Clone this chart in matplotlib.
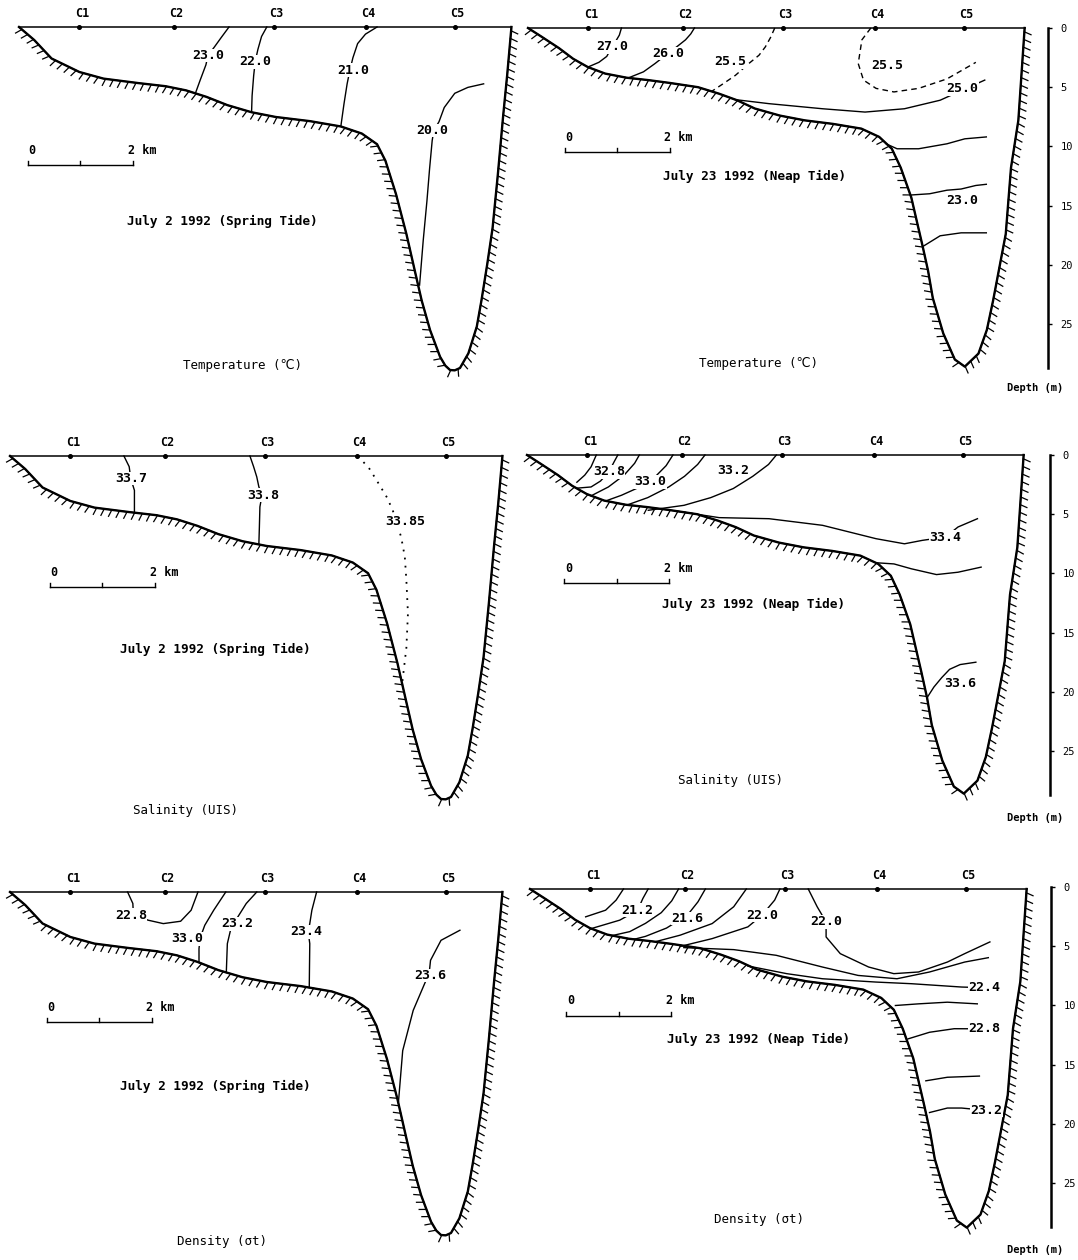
import matplotlib
matplotlib.use("Agg")
import matplotlib.pyplot as plt
from matplotlib import patheffects as pe

plt.rcParams["font.family"] = ["DejaVu Sans Mono", "DejaVu Sans"]

# stations along the section (km from the west bank)
stations = [1.15, 2.95, 4.85, 6.6, 8.3]
station_names = ["C1", "C2", "C3", "C4", "C5"]

# bottom profiles (km, m)
bed_spring_x = [0, 0.29, 0.62, 1.15, 1.61, 2.26, 2.79, 3.18, 3.57, 3.97, 4.43, 4.89, 5.54,
                6.13, 6.53, 6.82, 6.98, 7.18, 7.38, 7.55, 7.67, 7.83, 8.02, 8.12, 8.21,
                8.3, 8.4, 8.56, 8.72, 8.81, 8.92, 9.02, 9.12, 9.22, 9.30, 9.38]
bed_spring_z = [0, 1.1, 2.66, 3.8, 4.36, 4.73, 5.0, 5.35, 5.9, 6.6, 7.2, 7.6, 7.95,
                8.4, 9.0, 9.9, 11.3, 14.1, 17.5, 20.8, 23.1, 25.6, 27.85, 28.6, 28.97,
                29.0, 28.8, 27.56, 25.3, 23.06, 20.0, 17.0, 12.5, 7.6, 4.0, 0]

bed_neap_x = [0, 0.26, 0.59, 0.86, 1.14, 1.47, 1.88, 2.29, 2.7, 3.24, 3.64, 3.98, 4.32,
              4.8, 5.27, 5.81, 6.35, 6.69, 6.93, 7.1, 7.3, 7.51, 7.62, 7.71, 7.91, 8.13,
              8.32, 8.58, 8.74, 8.86, 9.1, 9.2, 9.34, 9.46]
bed_neap_z = [0, 0.74, 1.7, 2.6, 3.3, 3.85, 4.2, 4.4, 4.64, 5.0, 5.55, 6.1, 6.8,
              7.4, 7.8, 8.1, 8.5, 9.2, 10.2, 11.8, 14.3, 18.3, 20.5, 22.8, 25.8, 28.0,
              28.6, 27.5, 25.5, 23.0, 17.4, 11.8, 7.8, 0]

depth_ticks = [0, 5, 10, 15, 20, 25]

# isolines: label, x (km), depth (m), label position, line style
temp_spring = [
    ("23.0", [4.0, 3.85, 3.72, 3.6, 3.56, 3.45, 3.36], [0, 0.9, 1.7, 2.4, 3.2, 4.5, 5.6], (3.6, 2.4), "-"),
    ("22.0", [4.72, 4.62, 4.55, 4.5, 4.47, 4.44, 4.43], [0, 0.8, 1.9, 2.9, 4.1, 5.8, 7.2], (4.5, 2.95), "-"),
    ("21.0", [6.82, 6.6, 6.45, 6.36, 6.3, 6.25, 6.19, 6.13], [0, 0.6, 1.4, 2.6, 3.7, 4.8, 6.5, 8.4], (6.36, 3.65), "-"),
    ("20.0", [8.85, 8.55, 8.3, 8.1, 8.0, 7.9, 7.87, 7.82, 7.77, 7.7, 7.63],
     [4.8, 5.1, 5.6, 6.8, 8.0, 8.75, 9.6, 12, 14.7, 18, 21.8], (7.87, 8.75), "-"),
]
temp_neap = [
    ("27.0", [1.78, 1.74, 1.66, 1.6, 1.5, 1.35, 1.14], [0, 0.6, 1.2, 1.6, 2.4, 2.9, 3.3], (1.6, 1.6), "-"),
    ("26.0", [3.17, 3.1, 3.0, 2.83, 2.65, 2.42, 2.2, 1.92], [0, 0.5, 1.0, 1.6, 2.2, 3.0, 3.7, 4.2], (2.68, 2.15), "-"),
    ("25.5", [4.7, 4.62, 4.52, 4.4, 4.22, 3.95, 3.72, 3.5], [0, 0.8, 1.6, 2.3, 2.95, 4.0, 4.7, 5.35], (3.86, 2.86), "--"),
    ("25.5", [6.53, 6.36, 6.29, 6.39, 6.63, 6.97, 7.44, 7.98, 8.53], [0, 1.0, 3.0, 4.4, 5.1, 5.4, 5.1, 4.3, 2.9], (6.85, 3.15), "--"),
    ("25.0", [3.95, 4.59, 5.61, 6.42, 7.17, 7.85, 8.3, 8.7], [6.05, 6.39, 6.82, 7.1, 6.82, 6.1, 5.2, 4.4], (8.27, 5.12), "-"),
    (None, [6.83, 7.03, 7.44, 7.98, 8.32, 8.73], [9.8, 10.2, 10.2, 9.78, 9.36, 9.2], None, "-"),
    ("23.0", [7.31, 7.65, 7.98, 8.25, 8.53, 8.73], [14.1, 14.0, 13.7, 13.6, 13.3, 13.2], (8.28, 14.6), "-"),
    (None, [7.54, 7.85, 8.25, 8.73], [18.4, 17.55, 17.3, 17.3], None, "-"),
]
sal_spring = [
    ("33.7", [2.17, 2.27, 2.3, 2.37, 2.37, 2.37], [0, 0.9, 1.9, 2.9, 4.0, 4.8], (2.3, 1.9), "-"),
    ("33.8", [4.57, 4.64, 4.7, 4.74, 4.8, 4.76, 4.75, 4.74], [0, 0.9, 1.76, 2.6, 3.3, 4.3, 6.0, 7.47], (4.83, 3.31), "-"),
    ("33.85", [6.63, 6.85, 7.02, 7.18, 7.29, 7.45, 7.52, 7.55, 7.58, 7.55, 7.47],
     [0, 1.1, 2.32, 3.5, 4.58, 6.84, 8.5, 10.5, 13.3, 16.2, 19.2], (7.53, 5.57), ":"),
]
sal_neap = [
    (None, [1.32, 1.22, 1.1, 0.95], [0, 1.0, 1.7, 2.3], None, "-"),
    ("32.8", [1.73, 1.66, 1.56, 1.4, 1.22, 0.95], [0, 0.57, 1.42, 2.2, 2.7, 2.8], (1.56, 1.42), "-"),
    (None, [2.14, 2.05, 1.85, 1.55, 1.22], [0, 0.7, 1.7, 2.7, 3.45], None, "-"),
    ("33.0", [2.78, 2.65, 2.45, 2.1, 1.8, 1.5], [0, 0.9, 1.8, 2.8, 3.4, 3.88], (2.35, 2.27), "-"),
    (None, [3.39, 3.25, 3.0, 2.7, 2.3, 1.92], [0, 0.8, 1.8, 2.7, 3.6, 4.2], None, "-"),
    ("33.2", [4.75, 4.6, 4.3, 3.93, 3.5, 2.99, 2.31], [0, 0.8, 1.8, 2.83, 3.6, 4.25, 4.67], (3.93, 1.28), "-"),
    ("33.4", [2.85, 3.66, 4.61, 5.63, 6.65, 7.19, 7.53, 7.97, 8.21, 8.58],
     [4.74, 5.29, 5.38, 5.94, 7.07, 7.5, 7.21, 6.93, 6.08, 5.38], (7.97, 6.93), "-"),
    (None, [6.65, 6.99, 7.32, 7.8, 8.21, 8.65], [9.1, 9.2, 9.61, 10.1, 9.9, 9.47], None, "-"),
    ("33.6", [7.62, 7.75, 7.9, 8.05, 8.25, 8.55], [20.5, 19.6, 18.8, 18.1, 17.7, 17.5], (8.25, 19.3), "-"),
]
dens_spring = [
    ("22.8", [2.24, 2.34, 2.35, 2.63, 2.92, 3.25, 3.45, 3.58], [0, 0.97, 1.9, 2.38, 2.67, 2.47, 1.54, 0], (2.3, 1.96), "-"),
    ("33.0", [4.11, 3.88, 3.71, 3.62, 3.6, 3.6], [0, 1.54, 2.81, 3.9, 4.79, 5.95], (3.37, 3.94), "-"),
    ("23.2", [4.7, 4.5, 4.34, 4.25, 4.2, 4.14, 4.12], [0, 0.97, 2.1, 2.67, 3.23, 4.36, 6.8], (4.33, 2.67), "-"),
    ("23.4", [5.84, 5.75, 5.71, 5.68, 5.71, 5.7], [0, 1.54, 2.67, 3.37, 4.36, 8.07], (5.65, 3.37), "-"),
    ("23.6", [8.57, 8.21, 8.01, 7.98, 7.91, 7.68, 7.48, 7.4], [3.23, 4.08, 5.77, 7.05, 7.61, 10.0, 13.4, 17.7], (8.01, 7.05), "-"),
]
dens_neap = [
    (None, [1.78, 1.64, 1.44, 1.06], [0, 0.94, 1.79, 2.35], None, "-"),
    ("21.2", [2.25, 2.15, 2.05, 1.71, 1.17], [0, 0.8, 1.79, 2.63, 3.34], (2.05, 1.79), "-"),
    (None, [2.83, 2.7, 2.5, 2.2, 1.9, 1.55], [0, 1.0, 2.0, 2.9, 3.6, 3.95], None, "-"),
    ("21.6", [3.34, 3.2, 3.0, 2.6, 2.2, 1.98], [0, 1.08, 2.2, 3.3, 4.0, 4.25], (3.0, 2.49), "-"),
    (None, [4.12, 3.88, 3.47, 2.86, 2.39], [0, 1.5, 2.92, 3.9, 4.45], None, "-"),
    ("22.0", [4.76, 4.66, 4.42, 4.15, 3.47, 2.86], [0, 0.94, 2.21, 3.2, 4.19, 4.85], (4.42, 2.21), "-"),
    ("22.0", [5.3, 5.47, 5.64, 5.64, 5.91, 6.45, 6.93, 7.4, 7.95, 8.28, 8.76],
     [0, 1.5, 2.78, 4.05, 5.46, 6.59, 7.15, 7.01, 6.17, 5.46, 4.47], (5.64, 2.78), "-"),
    (None, [2.93, 3.88, 4.69, 5.57, 6.25, 6.99, 7.61, 8.28, 8.73],
     [4.95, 5.12, 5.6, 6.59, 7.3, 7.58, 7.01, 6.17, 5.8], None, "-"),
    ("22.4", [4.15, 4.89, 5.57, 6.59, 7.27, 8.22, 8.66], [6.5, 7.15, 7.58, 7.86, 8.0, 8.28, 8.34], (8.66, 8.34), "-"),
    (None, [6.96, 7.4, 7.95, 8.52], [9.84, 9.7, 9.56, 9.7], None, "-"),
    ("22.8", [7.2, 7.61, 8.08, 8.66], [12.66, 12.1, 11.8, 11.81], (8.66, 11.81), "-"),
    (None, [7.54, 7.95, 8.56], [16.2, 15.9, 15.8], None, "-"),
    ("23.2", [7.61, 7.95, 8.22, 8.69], [18.88, 18.5, 18.5, 18.7], (8.69, 18.7), "-"),
]

W, H = 1078, 1260
PX_KM = 52.5   # pixels per km
PX_M = 11.84   # pixels per metre of depth
LS = {"-": "-", "--": (0, (4, 3)), ":": (0, (1, 3.5))}

fig = plt.figure(figsize=(W / 100, H / 100), dpi=100)


def panel(x0, y0):
    left, right, top, bot = x0 - 12, x0 + 512, y0 - 24, y0 + 405
    ax = fig.add_axes([left / W, 1 - bot / H, (right - left) / W, (bot - top) / H])
    ax.set_xlim((left - x0) / PX_KM, (right - x0) / PX_KM)
    ax.set_ylim((bot - y0) / PX_M, (top - y0) / PX_M)
    ax.axis("off")
    return ax


def section(x0, y0, bed_x, bed_z, lines, date, date_xy, var, var_xy, bar_xy):
    ax = panel(x0, y0)
    ax.plot([0, bed_x[-1]], [0, 0], color="k", lw=1.1)
    ax.plot(stations, [0] * len(stations), "o", color="k", ms=2.6)
    for s, n in zip(stations, station_names):
        ax.text(s + 0.05, -1.15, n, ha="center", va="center", fontsize=8.5, fontweight="bold")
    # sea bed with hachures
    ax.plot(bed_x, bed_z, color="k", lw=1.7)
    ax.plot(bed_x, bed_z, color="k", lw=0.9,
            path_effects=[pe.withTickedStroke(angle=-110, spacing=5.5, length=0.95)])
    for lab, xs, zs, pos, ls in lines:
        ax.plot(xs, zs, color="k", lw=1.0 if ls != ":" else 1.3, linestyle=LS[ls])
        if lab:
            ax.text(pos[0], pos[1], lab, ha="center", va="center", fontsize=9.5,
                    fontweight="bold", zorder=5,
                    bbox=dict(fc="white", ec="none", pad=0.3))
    # 2 km scale bar
    bx, bz = bar_xy
    ax.plot([bx, bx + 2], [bz, bz], color="k", lw=1.0)
    for t in (0, 1, 2):
        ax.plot([bx + t, bx + t], [bz, bz - 0.35], color="k", lw=1.0)
    ax.text(bx + 0.08, bz - 0.7, "0", ha="center", va="bottom", fontsize=8.5, fontweight="bold")
    ax.text(bx + 1.9, bz - 0.7, "2 km", ha="left", va="bottom", fontsize=8.5, fontweight="bold")
    ax.text(*date_xy, date, ha="center", va="center", fontsize=9.2, fontweight="bold")
    ax.text(*var_xy, var, ha="center", va="center", fontsize=9)
    return ax


def depth_axis(xa, y0, y_label):
    h = 340
    ax = fig.add_axes([(xa - 4) / W, 1 - (y0 + h) / H, 4 / W, h / H])
    ax.set_ylim(h / PX_M, 0)
    for side in ("left", "top", "bottom"):
        ax.spines[side].set_visible(False)
    ax.spines["right"].set_linewidth(1.8)
    ax.set_xticks([])
    ax.yaxis.tick_right()
    ax.set_yticks(depth_ticks)
    ax.tick_params(axis="y", direction="out", length=3, width=1, labelsize=7.5, pad=6)
    fig.text(1035 / W, 1 - y_label / H, "Depth (m)", ha="center", va="center",
             fontsize=7.5, fontweight="bold")


spring = "July 2 1992 (Spring Tide)"
neap = "July 23 1992 (Neap Tide)"

section(19, 27, bed_spring_x, bed_spring_z, temp_spring, spring, (3.87, 16.4),
        "Temperature (\u2103)", (4.26, 28.6), (0.17, 11.66))
section(528, 28, bed_neap_x, bed_neap_z, temp_neap, neap, (4.32, 12.5),
        "Temperature (\u2103)", (4.39, 28.3), (0.7, 10.5))
section(10, 456, bed_spring_x, bed_spring_z, sal_spring, spring, (3.91, 16.3),
        "Salinity (UIS)", (3.35, 29.9), (0.76, 11.1))
section(527, 455, bed_neap_x, bed_neap_z, sal_neap, neap, (4.31, 12.6),
        "Salinity (UIS)", (3.87, 27.5), (0.71, 10.8))
section(10, 892, bed_spring_x, bed_spring_z, dens_spring, spring, (3.91, 16.4),
        "Density (\u03c3t)", (4.04, 29.5), (0.7, 11.0))
section(530, 889, bed_neap_x, bed_neap_z, dens_neap, neap, (4.35, 12.7),
        "Density (\u03c3t)", (4.36, 27.9), (0.69, 10.7))

depth_axis(1048, 28, 388)
depth_axis(1050, 455, 818)
depth_axis(1051, 887, 1250)

fig.savefig("out.png", dpi=100, facecolor="white")
